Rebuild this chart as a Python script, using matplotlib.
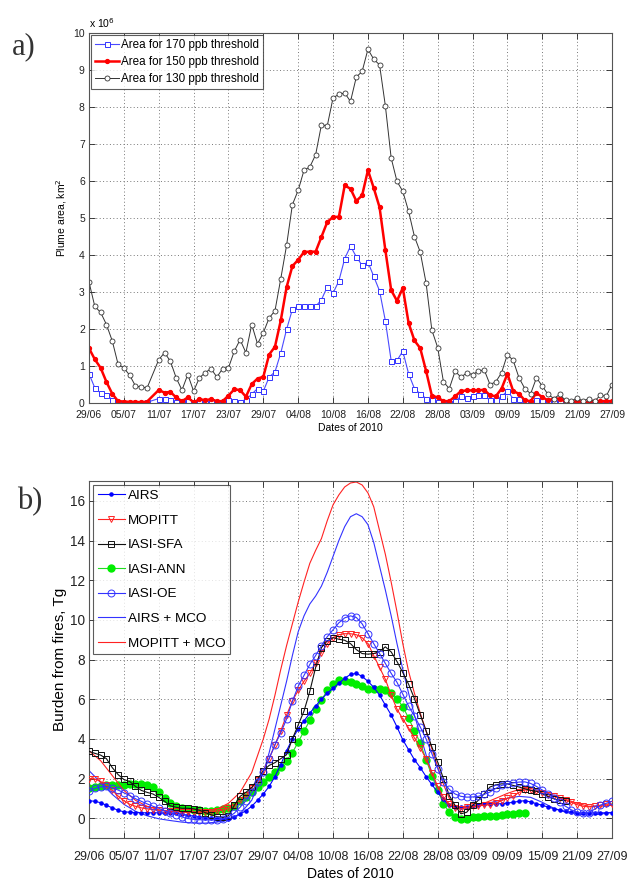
import matplotlib
matplotlib.use('Agg')
import matplotlib.pyplot as plt

# ---------------- shared axis data ----------------
date_ticks = [0, 6, 12, 18, 24, 30, 36, 42, 48, 54, 60, 66, 72, 78, 84, 90]
date_labels = ['29/06', '05/07', '11/07', '17/07', '23/07', '29/07', '04/08', '10/08',
               '16/08', '22/08', '28/08', '03/09', '09/09', '15/09', '21/09', '27/09']

# ---------------- panel a) plume area (x 10^6 km2) ----------------
days_a = [0, 1, 2, 3, 4, 5, 6, 7, 8, 9, 10, 12, 13, 14, 15, 16, 17, 18, 19, 20,
          21, 22, 23, 24, 25, 26, 27, 28, 29, 30, 31, 32, 33, 34, 35, 36, 37, 38, 39, 40,
          41, 42, 43, 44, 45, 46, 47, 48, 49, 50, 51, 52, 53, 54, 55, 56, 57, 58, 59, 60,
          61, 62, 63, 64, 65, 66, 67, 68, 69, 70, 71, 72, 73, 74, 75, 76, 77, 78, 79, 80,
          81, 82, 83, 84, 85, 86, 87, 88, 89, 90]
area_170 = [0.79, 0.41, 0.27, 0.22, 0.09, 0.0, 0.0, 0.0, 0.0, 0.0, 0.02, 0.12, 0.12, 0.07, 0.03, 0.03, 0.05, 0.0, 0.02, 0.0,
            0.05, 0.0, 0.0, 0.07, 0.05, 0.04, 0.09, 0.24, 0.39, 0.32, 0.7, 0.84, 1.35, 1.99, 2.53, 2.62, 2.61, 2.61, 2.61, 2.79,
            3.14, 2.97, 3.3, 3.9, 4.24, 3.95, 3.72, 3.81, 3.42, 3.03, 2.22, 1.14, 1.15, 1.4, 0.79, 0.39, 0.25, 0.12, 0.07, 0.03,
            0.0, 0.0, 0.05, 0.18, 0.14, 0.18, 0.21, 0.21, 0.07, 0.07, 0.18, 0.32, 0.12, 0.12, 0.0, 0.0, 0.07, 0.07, 0.03, 0.03,
            0.05, 0.0, 0.0, 0.0, 0.0, 0.0, 0.0, 0.03, 0.0, 0.03]
area_150 = [1.48, 1.18, 0.95, 0.57, 0.25, 0.05, 0.04, 0.03, 0.03, 0.02, 0.04, 0.35, 0.28, 0.3, 0.15, 0.05, 0.15, 0.02, 0.1, 0.08,
            0.1, 0.05, 0.05, 0.2, 0.37, 0.35, 0.17, 0.51, 0.66, 0.71, 1.31, 1.52, 2.23, 3.13, 3.7, 3.87, 4.08, 4.09, 4.09, 4.49,
            4.89, 5.03, 5.03, 5.88, 5.79, 5.46, 5.61, 6.29, 5.81, 5.29, 4.13, 3.05, 2.76, 3.11, 2.16, 1.69, 1.48, 0.87, 0.2, 0.15,
            0.05, 0.05, 0.18, 0.32, 0.34, 0.34, 0.34, 0.36, 0.21, 0.18, 0.39, 0.79, 0.32, 0.25, 0.07, 0.05, 0.27, 0.16, 0.07, 0.12,
            0.12, 0.03, 0.03, 0.05, 0.03, 0.03, 0.05, 0.05, 0.05, 0.05]
area_130 = [3.27, 2.61, 2.45, 2.12, 1.68, 1.05, 0.95, 0.75, 0.46, 0.43, 0.41, 1.17, 1.36, 1.13, 0.68, 0.35, 0.77, 0.32, 0.68, 0.82,
            0.93, 0.7, 0.93, 0.95, 1.4, 1.71, 1.36, 2.12, 1.6, 1.9, 2.3, 2.49, 3.36, 4.26, 5.36, 5.75, 6.29, 6.38, 6.71, 7.52,
            7.49, 8.25, 8.34, 8.38, 8.15, 8.81, 8.96, 9.56, 9.29, 9.14, 8.03, 6.62, 5.99, 5.72, 5.18, 4.5, 4.08, 3.25, 1.97, 1.5,
            0.57, 0.39, 0.86, 0.7, 0.81, 0.77, 0.86, 0.9, 0.5, 0.57, 0.82, 1.31, 1.15, 0.68, 0.39, 0.25, 0.68, 0.46, 0.23, 0.12,
            0.23, 0.07, 0.05, 0.14, 0.05, 0.12, 0.05, 0.21, 0.18, 0.5]
labels_a = ['Area for 170 ppb threshold', 'Area for 150 ppb threshold', 'Area for 130 ppb threshold']

# ---------------- panel b) burden from fires (Tg) ----------------
days_b = list(range(0, 91))
airs = [0.88, 0.85, 0.78, 0.65, 0.52, 0.4, 0.32, 0.3, 0.28, 0.27,
        0.27, 0.27, 0.27, 0.26, 0.25, 0.24, 0.2, 0.15, 0.1, 0.06,
        0.03, 0.0, -0.03, -0.05, -0.03, 0.05, 0.2, 0.38, 0.6, 0.9,
        1.22, 1.6, 2.1, 2.7, 3.4, 4.0, 4.5, 4.9, 5.3, 5.65,
        6.0, 6.3, 6.55, 6.8, 7.05, 7.25, 7.3, 7.15, 6.9, 6.6,
        6.2, 5.7, 5.2, 4.6, 3.95, 3.45, 2.95, 2.55, 2.1, 1.7,
        1.3, 0.95, 0.68, 0.57, 0.56, 0.58, 0.62, 0.66, 0.69, 0.72,
        0.72, 0.73, 0.76, 0.8, 0.85, 0.88, 0.82, 0.73, 0.65, 0.56,
        0.48, 0.4, 0.35, 0.3, 0.26, 0.25, 0.25, 0.27, 0.27, 0.27, 0.27]
mopitt = [2.0, 1.98, 1.85, 1.65, 1.4, 1.12, 0.88, 0.7, 0.6, 0.52,
          0.47, 0.43, 0.4, 0.38, 0.36, 0.34, 0.33, 0.32, 0.31, 0.3,
          0.3, 0.32, 0.36, 0.42, 0.52, 0.68, 0.9, 1.15, 1.5, 1.9,
          2.4, 3.0, 3.7, 4.4, 5.2, 5.9, 6.45, 6.9, 7.3, 7.8,
          8.35, 8.8, 9.1, 9.25, 9.3, 9.3, 9.25, 9.1, 8.8, 8.2,
          7.6, 7.0, 6.2, 5.5, 5.0, 4.55, 4.05, 3.55, 3.0, 2.3,
          1.6, 1.06, 0.72, 0.5, 0.47, 0.55, 0.59, 0.62, 0.65, 0.68,
          0.76, 0.88, 1.0, 1.1, 1.3, 1.42, 1.42, 1.35, 1.28, 1.18,
          1.1, 1.0, 0.9, 0.8, 0.68, 0.6, 0.57, 0.6, 0.65, 0.7, 0.72]
days_sfa = list(range(0, 83))
iasi_sfa = [3.37, 3.27, 3.18, 3.0, 2.55, 2.2, 1.95, 1.85, 1.6, 1.4,
            1.3, 1.22, 1.05, 0.85, 0.62, 0.55, 0.5, 0.5, 0.47, 0.4,
            0.28, 0.17, 0.08, 0.04, 0.12, 0.65, 1.1, 1.3, 1.55, 1.95,
            2.4, 2.66, 2.8, 3.0, 3.2, 4.0, 4.7, 5.4, 6.4, 7.6,
            8.6, 8.94, 9.1, 9.02, 8.97, 8.8, 8.5, 8.3, 8.27, 8.3,
            8.4, 8.64, 8.38, 7.9, 7.34, 6.75, 6.03, 5.22, 4.41, 3.59,
            2.83, 1.99, 1.14, 0.64, 0.22, 0.3, 0.64, 0.9, 1.23, 1.57,
            1.68, 1.73, 1.73, 1.65, 1.57, 1.48, 1.4, 1.36, 1.23, 1.09,
            0.98, 0.9, 0.88]
days_ann = list(range(0, 76))
iasi_ann = [1.5, 1.55, 1.62, 1.67, 1.68, 1.65, 1.68, 1.73, 1.73, 1.72,
            1.68, 1.55, 1.3, 1.0, 0.75, 0.6, 0.52, 0.47, 0.43, 0.39,
            0.37, 0.37, 0.4, 0.45, 0.5, 0.62, 0.85, 1.08, 1.3, 1.55,
            1.8, 2.1, 2.35, 2.6, 2.9, 3.3, 3.84, 4.39, 4.93, 5.52,
            5.94, 6.45, 6.78, 6.95, 6.92, 6.85, 6.74, 6.64, 6.53, 6.53,
            6.53, 6.48, 6.33, 6.03, 5.62, 5.05, 4.4, 3.8, 2.95, 2.15,
            1.4, 0.72, 0.3, 0.05, -0.03, -0.03, 0.05, 0.08, 0.1, 0.12,
            0.13, 0.17, 0.19, 0.22, 0.24, 0.27]
iasi_oe = [1.35, 1.5, 1.58, 1.6, 1.52, 1.42, 1.28, 1.14, 0.98, 0.85,
           0.72, 0.6, 0.5, 0.38, 0.27, 0.16, 0.06, -0.02, -0.06, -0.08,
           -0.08, -0.08, -0.07, -0.04, 0.05, 0.25, 0.55, 0.88, 1.3, 1.8,
           2.35, 3.0, 3.7, 4.3, 5.0, 5.9, 6.65, 7.2, 7.75, 8.2,
           8.7, 9.15, 9.5, 9.85, 10.1, 10.2, 10.12, 9.8, 9.3, 8.8,
           8.3, 7.8, 7.3, 6.85, 6.25, 5.65, 5.15, 4.6, 4.0, 3.25,
           2.5, 1.82, 1.45, 1.22, 1.1, 1.06, 1.07, 1.1, 1.2, 1.32,
           1.5, 1.65, 1.73, 1.78, 1.82, 1.83, 1.75, 1.6, 1.42, 1.23,
           1.0, 0.8, 0.6, 0.42, 0.3, 0.25, 0.28, 0.45, 0.65, 0.75, 0.85]
days_airs_mco = [0, 2, 4, 6, 8, 10, 12, 14, 16, 18, 20, 22, 24, 26, 28, 30,
                 31, 32, 33, 34, 35, 36, 37, 38, 39, 40, 41, 42, 43, 44, 45, 46, 47, 48, 49, 50,
                 51, 52, 53, 54, 55, 56, 57, 58, 59, 60, 61, 62, 64, 66, 68, 70, 72, 74, 76, 78,
                 80, 82, 84, 86, 88, 90]
airs_mco = [2.4, 1.8, 1.2, 0.7, 0.35, 0.12, -0.03, -0.12, -0.2, -0.25, -0.25, -0.2, -0.08, 0.22, 0.9, 2.3,
            3.3, 4.5, 5.7, 6.9, 8.2, 9.4, 10.2, 10.8, 11.2, 11.7, 12.4, 13.2, 14.0, 14.7, 15.2, 15.35, 15.2, 14.8, 13.9, 12.7,
            11.5, 10.2, 8.8, 7.5, 6.3, 5.2, 4.2, 3.2, 2.3, 1.5, 0.9, 0.6, 0.5, 0.55, 0.7, 0.85, 1.0, 1.1, 1.05, 0.8,
            0.5, 0.3, 0.2, 0.15, 0.2, 0.3]
days_mopitt_mco = [0, 2, 4, 6, 8, 10, 12, 14, 16, 18, 20, 22, 24, 26, 28, 30,
                   31, 32, 33, 34, 35, 36, 37, 38, 39, 40, 41, 42, 43, 44, 45, 46, 47, 48, 49, 50,
                   51, 52, 53, 54, 55, 56, 57, 58, 59, 60, 61, 62, 63, 64, 66, 68, 70, 72, 74, 76,
                   78, 80, 82, 84, 86, 88, 90]
mopitt_mco = [3.4, 2.9, 2.15, 1.4, 0.9, 0.6, 0.42, 0.35, 0.3, 0.3, 0.35, 0.45, 0.75, 1.3, 2.3, 4.0,
              5.0, 6.2, 7.5, 8.7, 9.8, 10.9, 11.9, 12.85, 13.5, 14.1, 15.0, 15.8, 16.3, 16.7, 16.9, 16.95, 16.8, 16.4, 15.7, 14.5,
              13.3, 11.9, 10.4, 8.8, 7.4, 6.3, 5.3, 4.4, 3.5, 2.6, 1.7, 1.0, 0.6, 0.5, 0.55, 0.75, 1.0, 1.25, 1.45, 1.5,
              1.35, 1.15, 0.95, 0.75, 0.6, 0.6, 0.65]
labels_b = ['AIRS', 'MOPITT', 'IASI-SFA', 'IASI-ANN', 'IASI-OE', 'AIRS + MCO', 'MOPITT + MCO']

# ---------------- figure ----------------
W, H = 627, 881
fig = plt.figure(figsize=(W / 100, H / 100), dpi=100)

sans = ['Liberation Sans', 'DejaVu Sans']
serif = ['Liberation Serif', 'DejaVu Serif']


def ax_rect(x0, y0, x1, y1):
    return [x0 / W, 1 - y1 / H, (x1 - x0) / W, (y1 - y0) / H]


def matlab_style(ax, fs, xpad, ypad):
    ax.grid(True, linestyle=(0, (1, 2.5)), color='#777777', linewidth=0.7)
    ax.set_axisbelow(True)
    ax.tick_params(direction='in', top=True, right=True, length=4, width=0.6,
                   labelsize=fs, colors='#222222')
    ax.tick_params(axis='x', pad=xpad)
    ax.tick_params(axis='y', pad=ypad)
    for s in ax.spines.values():
        s.set_linewidth(0.8)
        s.set_color('#555555')
    for lab in ax.get_xticklabels() + ax.get_yticklabels():
        lab.set_family(sans)


# ---- panel a
ax1 = fig.add_axes(ax_rect(89, 33, 612, 403))
ax1.plot(days_a, area_170, '-s', color='#4a4aff', lw=0.8, ms=3.6, mfc='white', mec='#3333ff', mew=0.7,
         label=labels_a[0])
ax1.plot(days_a, area_150, '-o', color='#ff0000', lw=1.8, ms=2.8, mfc='#ff0000', mec='#ff0000',
         label=labels_a[1])
ax1.plot(days_a, area_130, '-o', color='#333333', lw=0.7, ms=3.6, mfc='white', mec='#333333', mew=0.6,
         label=labels_a[2])
ax1.set_xlim(0, 90)
ax1.set_ylim(0, 10)
ax1.set_xticks(date_ticks)
ax1.set_xticklabels(date_labels)
ax1.set_yticks(range(0, 11))
matlab_style(ax1, 7.5, 5, 3)
ax1.set_ylabel('Plume area, km$^2$', fontsize=7.5, family=sans, labelpad=3)
ax1.set_xlabel('Dates of 2010', fontsize=7.5, family=sans, labelpad=2)
ax1.text(0.0, 1.008, 'x 10$^{6}$', transform=ax1.transAxes, fontsize=7.5, family=sans,
         ha='left', va='bottom')
leg1 = ax1.legend(loc='upper left', prop={'family': sans, 'size': 8.4},
                  frameon=True, fancybox=False, edgecolor='#333333', borderpad=0.35,
                  labelspacing=0.42, handlelength=2.0, handletextpad=0.2, numpoints=1,
                  borderaxespad=0.2)
leg1.get_frame().set_linewidth(0.8)
fig.text(12 / W, 1 - 47 / H, 'a)', fontsize=22, family=serif, color='#333333', va='center', ha='left')

# ---- panel b
ax2 = fig.add_axes(ax_rect(89, 481, 612, 838))
ax2.plot(days_b, airs, '-', color='#0000ff', lw=0.8, marker='.', ms=4.5, label=labels_b[0], zorder=3)
ax2.plot(days_b, mopitt, '-v', color='#ff2222', lw=0.8, ms=4, mfc='none', mec='#ff2222', mew=0.7,
         label=labels_b[1], zorder=3)
ax2.plot(days_sfa, iasi_sfa, '-s', color='#111111', lw=0.8, ms=5, mfc='none', mec='#111111', mew=0.7,
         label=labels_b[2], zorder=3)
ax2.plot(days_ann, iasi_ann, '-o', color='#22dd22', lw=0.8, ms=5, mfc='#00ee00', mec='#00ee00',
         label=labels_b[3], zorder=2)
ax2.plot(days_b, iasi_oe, '-o', color='#3333ff', lw=0.8, ms=5, mfc='none', mec='#3333ff', mew=0.7,
         label=labels_b[4], zorder=3)
ax2.plot(days_airs_mco, airs_mco, '-', color='#3333ff', lw=0.8, label=labels_b[5], zorder=2)
ax2.plot(days_mopitt_mco, mopitt_mco, '-', color='#ff2222', lw=0.8, label=labels_b[6], zorder=2)
ax2.set_xlim(0, 90)
ax2.set_ylim(-1, 17)
ax2.set_xticks(date_ticks)
ax2.set_xticklabels(date_labels)
ax2.set_yticks(range(0, 17, 2))
matlab_style(ax2, 9.0, 9, 3)
ax2.tick_params(axis='y', labelsize=9.8)
ax2.set_ylabel('Burden from fires, Tg', fontsize=11, family=sans, labelpad=2)
ax2.set_xlabel('Dates of 2010', fontsize=10, family=sans, labelpad=3)
leg2 = ax2.legend(loc='upper left', prop={'family': sans, 'size': 9.7},
                  frameon=True, fancybox=False, edgecolor='#333333', borderpad=0.35,
                  labelspacing=0.9, handlelength=2.0, handletextpad=0.25, numpoints=1,
                  borderaxespad=0.3)
leg2.get_frame().set_linewidth(0.8)
fig.text(17 / W, 1 - 502 / H, 'b)', fontsize=22, family=serif, color='#333333', va='center', ha='left')

fig.savefig('out.png', dpi=100)
